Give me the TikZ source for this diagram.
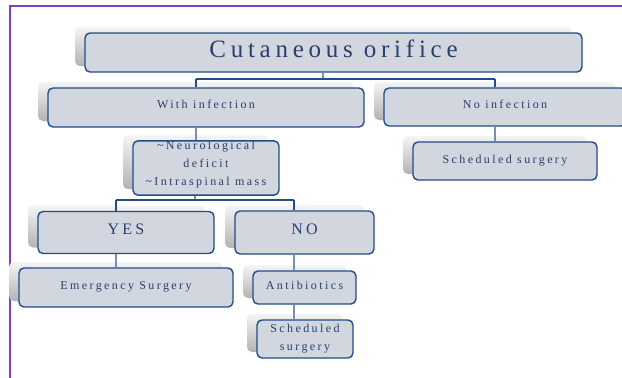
\documentclass[tikz,border=0pt]{standalone}
\usepackage{fontspec}
\setmainfont{Liberation Serif}
\newfontfamily\spacedfont[LetterSpace=20]{Liberation Serif}
\newfontfamily\bigfont[LetterSpace=19]{Liberation Serif}
\definecolor{framec}{RGB}{130,62,190}
\definecolor{boxblue}{RGB}{35,76,136}
\definecolor{boxfill}{RGB}{210,214,223}
\definecolor{txtc}{RGB}{40,64,108}
\definecolor{stubc}{RGB}{125,143,172}
\begin{document}
\begin{tikzpicture}[x=1pt,y=-1pt,
  box/.style={draw=boxblue, line width=1.4pt, rounded corners=5pt, fill=boxfill,
    inner sep=0pt, text=txtc, align=center,
    font=\spacedfont\fontsize{12}{18}\selectfont,
    preaction={draw=none, top color=black!4, bottom color=black!30,
      transform canvas={xshift=-10pt, yshift=6pt}}},
  bl/.style={text height=#1, text depth=0pt},
  bus/.style={draw=boxblue, line width=1.4pt},
  stub/.style={draw=stubc, line width=1.4pt}]
\useasboundingbox (0,0) rectangle (622,378);
\clip (0,0) rectangle (622,378);
\fill[white] (0,0) rectangle (622,378);
% frame
\draw[framec, line width=2.2pt] (10,378) -- (10,6) -- (622,6);
% boxes
\node[box, minimum width=497pt, minimum height=39pt, bl=9pt,
  font=\bigfont\fontsize{25}{28}\selectfont] (T) at (333.5,52.5) {Cutaneous orifice};
\node[box, minimum width=316pt, minimum height=39pt, bl=1pt] (WI) at (206,107.5) {With infection};
\node[box, minimum width=242pt, minimum height=38pt, bl=3pt] (NI) at (505,107) {No infection};
\node[box, minimum width=184pt, minimum height=38pt, bl=4pt] (SR) at (505,161) {Scheduled surgery};
\node[box, minimum width=146pt, minimum height=52pt] (N) at (206,168)
  {\textasciitilde Neurological\\ deficit\\ \textasciitilde Intraspinal mass\rule[-10pt]{0pt}{10pt}};
\node[box, minimum width=176pt, minimum height=42pt, bl=3pt,
  font=\spacedfont\fontsize{16}{18}\selectfont] (Y) at (126,232.5) {YES};
\node[box, minimum width=139pt, minimum height=43pt, bl=3pt,
  font=\spacedfont\fontsize{16}{18}\selectfont] (NO) at (304.5,232.5) {NO};
\node[box, minimum width=214pt, minimum height=39pt, bl=3pt] (E) at (126,287.5) {Emergency Surgery};
\node[box, minimum width=103pt, minimum height=33pt, bl=4pt] (A) at (304.5,287.5) {Antibiotics};
\node[box, minimum width=96pt, minimum height=38pt] (S2) at (305,339) {Scheduled\\ surgery};
% connectors
\coordinate (c1) at (323,79);
\coordinate (b1L) at (196,79);
\coordinate (b1R) at (495,79);
\coordinate (c2) at (195,200);
\coordinate (b2L) at (116,200);
\coordinate (b2R) at (294,200);
\draw[stub] (T.south -| c1) -- (c1);
\draw[bus] (b1L) -- (b1R);
\draw[bus] (b1L) -- (WI.north -| b1L);
\draw[bus] (b1R) -- (NI.north -| b1R);
\draw[stub] (WI.south -| b1L) -- (N.north -| b1L);
\draw[stub] (NI.south -| b1R) -- (SR.north -| b1R);
\draw[stub] (N.south -| c2) -- (c2);
\draw[bus] (b2L) -- (b2R);
\draw[bus] (b2L) -- (Y.north -| b2L);
\draw[bus] (b2R) -- (NO.north -| b2R);
\draw[stub] (Y.south -| b2L) -- (E.north -| b2L);
\draw[stub] (NO.south -| b2R) -- (A.north -| b2R);
\draw[stub] (A.south -| b2R) -- (S2.north -| b2R);
\end{tikzpicture}
\end{document}
